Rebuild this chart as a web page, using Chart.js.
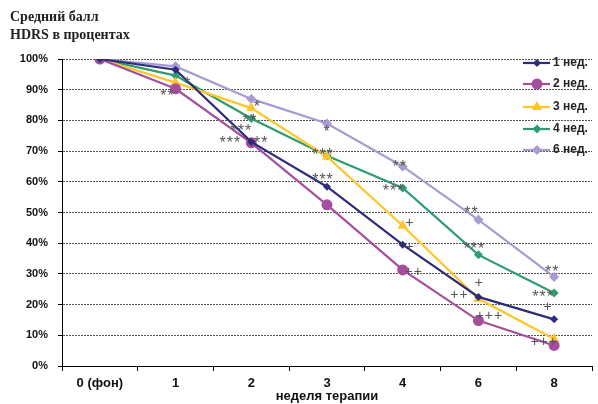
<!DOCTYPE html>
<html>
<head>
<meta charset="utf-8">
<script src="https://cdn.jsdelivr.net/npm/chart.js@4.4.1/dist/chart.umd.min.js"></script>
<style>
html,body{margin:0;padding:0;background:#fff;}
canvas{display:block;}
</style>
</head>
<body>
<canvas id="c" width="598" height="404"></canvas>
<script>
// ---- data ----
const categories = ['0 (фон)', '1', '2', '3', '4', '6', '8'];
const seriesNames = ['1 нед.', '2 нед.', '3 нед.', '4 нед.', '6 нед.'];
const week1 = [100, 96.5, 73.0, 58.4, 39.5, 22.5, 15.2];
const week2 = [100, 90.3, 72.7, 52.5, 31.3, 14.8, 6.7];
const week3 = [100, 92.3, 84.0, 68.2, 45.7, 21.9, 8.8];
const week4 = [100, 94.6, 80.6, 68.5, 58.0, 36.2, 23.8];
const week6 = [100, 97.6, 87.0, 79.0, 65.0, 47.6, 29.0];
const yTicks = [0, 10, 20, 30, 40, 50, 60, 70, 80, 90, 100];
// significance marks per series per point
const sig1 = ['', '*', '***', '***', '+', '+', '+'];
const sig2 = ['', '**', '**', '', '++', '+++', '+++'];
const sig3 = ['', '', '**', '', '+', '++', ''];
const sig4 = ['', '', '***', '***', '***', '***', '***'];
const sig6 = ['', '', '*', '*', '**', '**', '**'];
const titleLines = ['Средний балл', 'HDRS в процентах'];
const xTitle = 'неделя терапии';

// ---- styling (separate from data) ----
const colors = ['#2E2B7C', '#A64E9E', '#FFC629', '#2E9C70', '#A99BD1'];
const pStyles = ['rectRot', 'circle', 'triangle', 'rectRot', 'rectRot'];
const pRadius = [4, 5.5, 6, 4.5, 5];
const sigOffsets = [
  [null, [12, 10], [-21, -3], [-4, -11], [7, 2], [1, -14], [-6, -12]],
  [null, [-8, 3], [10, -4], null, [11, 2], [11, -4], [-10, -3]],
  [null, null, [-1, 8], null, [7, -3], [-19, -4], null],
  [null, null, [-10, 8], [-4, -5], [-9, -1], [-4, -10], [-11, 0]],
  [null, null, [6, 4], [0, 4], [-3, -4], [-7, -11], [-2, -9]]
];
const seriesData = [week1, week2, week3, week4, week6];
const sigs = [sig1, sig2, sig3, sig4, sig6];

const SANS = '"Liberation Sans", Arial, sans-serif';
const SERIF = '"Liberation Serif", "Times New Roman", serif';

const datasets = seriesData.map((d, i) => ({
  label: seriesNames[i],
  data: d,
  borderColor: colors[i],
  backgroundColor: colors[i],
  borderWidth: 2.2,
  pointStyle: pStyles[i],
  pointRadius: pRadius[i],
  pointHoverRadius: pRadius[i],
  pointBorderWidth: 0,
  tension: 0,
  fill: false
}));

const extras = {
  id: 'extras',
  afterDatasetsDraw(chart) {
    const ctx = chart.ctx;
    ctx.save();
    ctx.fillStyle = '#555';
    ctx.textAlign = 'center';
    ctx.textBaseline = 'middle';
    sigs.forEach((arr, s) => {
      const meta = chart.getDatasetMeta(s);
      arr.forEach((t, i) => {
        if (!t) return;
        const off = sigOffsets[s][i] || [0, 0];
        const p = meta.data[i];
        const star = t[0] === '*';
        ctx.font = (star ? '16px ' : '14px ') + SANS;
        ctx.letterSpacing = star ? '1px' : '1px';
        const dy = star ? 5 : 0;
        ctx.fillText(t, p.x + off[0], p.y + off[1] + dy);
      });
    });
    ctx.restore();
  },
  afterDraw(chart) {
    const ctx = chart.ctx;
    ctx.save();
    // title
    ctx.fillStyle = '#222';
    ctx.font = 'bold 14px ' + SERIF;
    ctx.textAlign = 'left';
    ctx.textBaseline = 'alphabetic';
    ctx.fillText(titleLines[0], 10, 21);
    ctx.fillText(titleLines[1], 10, 39);
    // legend
    const rows = [63, 84, 107, 129, 150];
    ctx.font = 'bold 12px ' + SANS;
    ctx.textBaseline = 'middle';
    seriesNames.forEach((n, i) => {
      const y = rows[i];
      ctx.strokeStyle = colors[i];
      ctx.lineWidth = 2.2;
      ctx.beginPath();
      ctx.moveTo(523, y);
      ctx.lineTo(550, y);
      ctx.stroke();
      ctx.fillStyle = colors[i];
      Chart.helpers.drawPoint(ctx, {pointStyle: pStyles[i], radius: pRadius[i], borderWidth: 0, rotation: 0}, 537, y);
      ctx.fillStyle = '#222';
      ctx.fillText(n, 553, y);
    });
    ctx.restore();
  }
};

new Chart(document.getElementById('c'), {
  type: 'line',
  data: { labels: categories, datasets },
  plugins: [extras],
  options: {
    responsive: false,
    devicePixelRatio: 1,
    animation: false,
    layout: { padding: { top: 59, right: 1, left: 0, bottom: 0 } },
    plugins: { legend: { display: false }, title: { display: false }, tooltip: { enabled: false } },
    scales: {
      x: {
        type: 'category',
        offset: true,
        afterFit(s) { s.height = 38; },
        grid: { display: true, offset: true, drawOnChartArea: false, drawTicks: true, tickLength: 5, color: '#000', tickColor: '#000' },
        border: { display: true, color: '#000', width: 1 },
        ticks: { autoSkip: false, maxRotation: 0, padding: 5, color: '#111', font: { family: SANS, size: 13, weight: 'bold' } },
        title: { display: true, text: xTitle, color: '#111', padding: { top: 0, bottom: 0 }, font: { family: SANS, size: 13, weight: 'bold' } }
      },
      y: {
        min: 0, max: 100,
        afterFit(s) { s.width = 62; },
        afterBuildTicks(s) { s.ticks = yTicks.map(v => ({ value: v })); },
        grid: { color: '#555', tickColor: '#000', tickLength: 4, lineWidth: 1, tickBorderDash: [] },
        border: { display: true, color: '#000', width: 1, dash: [2, 1] },
        ticks: { padding: 10, color: '#111', font: { family: SANS, size: 11, weight: 'bold' }, callback: v => v + '%' }
      }
    }
  }
});
</script>
</body>
</html>
